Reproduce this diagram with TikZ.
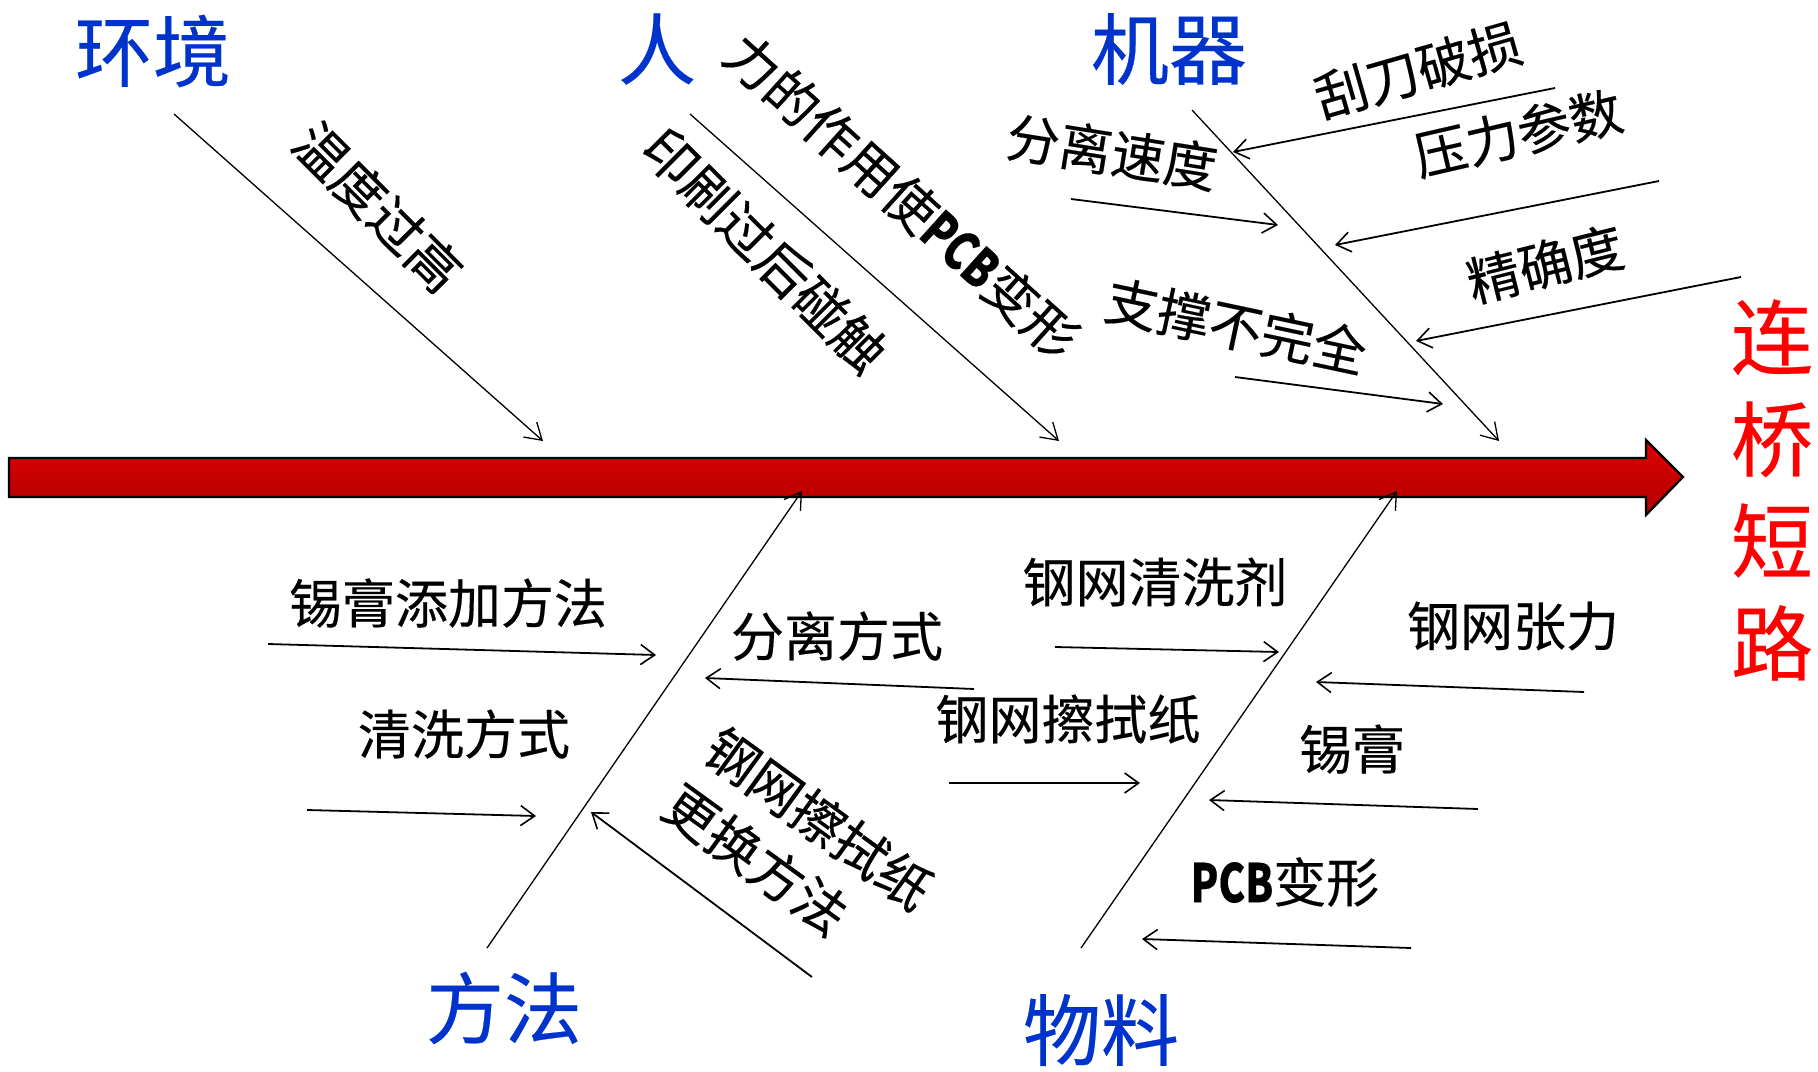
\documentclass[tikz,border=0pt]{standalone}
\usepackage{graphicx}
\usepackage{fontspec}
\newfontfamily\cjk[FakeBold=0.3]{Noto Sans CJK SC}
\usetikzlibrary{arrows.meta}
\definecolor{catblue}{RGB}{0,51,204}
\definecolor{effred}{RGB}{255,0,0}
\definecolor{arrtop}{RGB}{222,0,0}
\definecolor{arrmid}{RGB}{212,0,0}
\definecolor{arrbot}{RGB}{178,0,0}
\newcommand{\pcb}{\scalebox{0.76}[1]{\textbf{PCB}}}
\tikzset{
  cat/.style={font=\cjk\fontsize{78}{80}\selectfont, text=catblue, inner sep=0pt},
  eff/.style={font=\cjk\fontsize{82}{102}\selectfont, text=effred, inner sep=0pt, align=center},
  lbl/.style={font=\cjk\fontsize{53}{70}\selectfont, inner sep=0pt},
  bone/.style={line width=1.3pt, -{Straight Barb[length=16pt,width=20pt,line width=1.3pt]}},
  sub/.style={line width=1.8pt, -{Straight Barb[length=14pt,width=20pt,line width=1.6pt]}},
}
\begin{document}
\begin{tikzpicture}[x=1pt,y=-1pt]
\useasboundingbox (0,0) rectangle (1818,1071);
% main spine arrow
\path[draw=black, line width=2.2pt, line join=miter, top color=arrtop, middle color=arrmid, bottom color=arrbot]
  (9,458) -- (1646,458) -- (1646,440) -- (1683,477) -- (1646,515) -- (1646,497) -- (9,497) -- cycle;
% effect
\node[eff] (effect) at (1772,490) {连\\桥\\短\\路};
% categories
\node[cat] (env) at (153,51) {环境};
\node[cat] (man) at (657,49) {人};
\node[cat] (mach) at (1169,49) {机器};
\node[cat] (meth) at (504,1008) {方法};
\node[cat] (mat) at (1101,1030) {物料};
% bone coordinates
\coordinate (envS) at (174,114);  \coordinate (envE) at (543,441);
\coordinate (manS) at (690,114);  \coordinate (manE) at (1059,441);
\coordinate (machS) at (1192,110); \coordinate (machE) at (1499,441);
\coordinate (methS) at (487,948); \coordinate (methE) at (802,491);
\coordinate (matS) at (1081,948); \coordinate (matE) at (1397,491);
\draw[bone] (envS) -- (envE);
\draw[bone] (manS) -- (manE);
\draw[bone] (machS) -- (machE);
\draw[bone] (methS) -- (methE);
\draw[bone] (matS) -- (matE);
% labels along bones
\node[lbl, rotate=-45] (t1) at (378,207) {温度过高};
\node[lbl, rotate=-45] (t2) at (765,250) {印刷过后碰触};
\node[lbl, rotate=-42] (t3) at (902,196) {力的作用使\pcb 变形};
% machine sub causes
\node[lbl, rotate=-9] (m1) at (1112,152) {分离速度};
\node[lbl, rotate=-12] (m2) at (1236,326) {支撑不完全};
\node[lbl, rotate=16] (m3) at (1418,70) {刮刀破损};
\node[lbl, rotate=13] (m4) at (1518,133) {压力参数};
\node[lbl, rotate=14] (m5) at (1545,264) {精确度};
\coordinate (m1S) at (1071,199); \coordinate (m1E) at (1278,225);
\coordinate (m2S) at (1235,377); \coordinate (m2E) at (1443,404);
\coordinate (m3S) at (1555,88);  \coordinate (m3E) at (1233,152);
\coordinate (m4S) at (1659,181); \coordinate (m4E) at (1335,245);
\coordinate (m5S) at (1741,277); \coordinate (m5E) at (1416,341);
\draw[sub] (m1S) -- (m1E);
\draw[sub] (m2S) -- (m2E);
\draw[sub] (m3S) -- (m3E);
\draw[sub] (m4S) -- (m4E);
\draw[sub] (m5S) -- (m5E);
% method sub causes
\node[lbl] (h1) at (448,603) {锡膏添加方法};
\node[lbl] (h2) at (464,734) {清洗方式};
\node[lbl] (h3) at (837,636) {分离方式};
\node[lbl, rotate=-36, align=left] (h4) at (798,847) {钢网擦拭纸\\更换方法};
\coordinate (h1S) at (268,644); \coordinate (h1E) at (656,655);
\coordinate (h2S) at (307,810); \coordinate (h2E) at (536,816);
\coordinate (h3S) at (974,689); \coordinate (h3E) at (705,678);
\coordinate (h4S) at (812,977); \coordinate (h4E) at (591,812);
\draw[sub] (h1S) -- (h1E);
\draw[sub] (h2S) -- (h2E);
\draw[sub] (h3S) -- (h3E);
\draw[sub] (h4S) -- (h4E);
% material sub causes
\node[lbl] (w1) at (1155,582) {钢网清洗剂};
\node[lbl] (w2) at (1068,719) {钢网擦拭纸};
\node[lbl] (w3) at (1513,626) {钢网张力};
\node[lbl] (w4) at (1352,749) {锡膏};
\node[lbl] (w5) at (1285,882) {\pcb 变形};
\coordinate (w1S) at (1055,647); \coordinate (w1E) at (1279,652);
\coordinate (w2S) at (949,783);  \coordinate (w2E) at (1140,783);
\coordinate (w3S) at (1584,692); \coordinate (w3E) at (1316,682);
\coordinate (w4S) at (1478,809); \coordinate (w4E) at (1209,800);
\coordinate (w5S) at (1411,948); \coordinate (w5E) at (1142,939);
\draw[sub] (w1S) -- (w1E);
\draw[sub] (w2S) -- (w2E);
\draw[sub] (w3S) -- (w3E);
\draw[sub] (w4S) -- (w4E);
\draw[sub] (w5S) -- (w5E);
\end{tikzpicture}
\end{document}
